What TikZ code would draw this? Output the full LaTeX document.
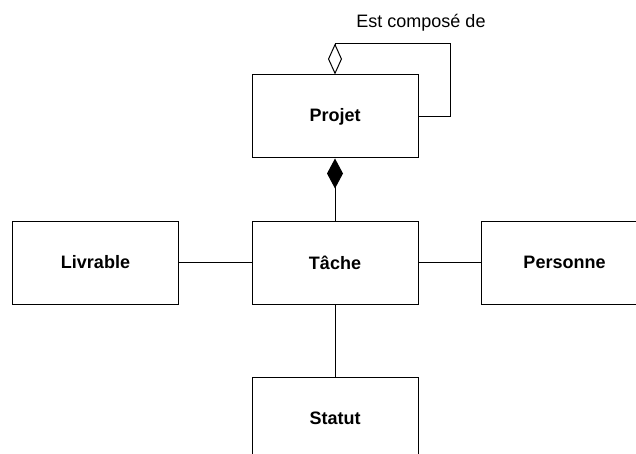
\documentclass[tikz,border=0pt]{standalone}
\usepackage{fontspec}
\setmainfont{Liberation Sans}
\usepackage{tikz}
\usetikzlibrary{arrows.meta}

\begin{document}
\begin{tikzpicture}[
  x=1pt, y=-1pt,
  font=\fontsize{18}{20}\selectfont,
  cls/.style={draw=black, line width=1pt, minimum width=166pt, minimum height=83pt,
              inner sep=0pt, font=\fontsize{18}{20}\selectfont\bfseries},
  assoc/.style={draw=black, line width=1pt},
  aggr/.style={assoc, -{Diamond[open, length=31pt, width=14pt, line width=1pt]}},
  comp/.style={assoc, -{Diamond[length=30pt, width=16pt, fill=black]}},
  lbl/.style={inner sep=0pt}
]
\useasboundingbox (0,0) rectangle (636,454);
\clip (0,0) rectangle (636,454);

%% ---- classes ---------------------------------------------------------------
\node[cls] (projet)   at (335,116.5) {Projet};
\node[cls] (tache)    at (335,262.5) {Tâche};
\node[cls] (livrable) at (95.5,262.5) {Livrable};
\node[cls] (personne) at (564.5,262.5) {Personne};
\node[cls] (statut)   at (335,418.5) {Statut};

%% ---- self aggregation on the project ---------------------------------------
\draw[aggr] (projet.east) -- ++(32,0) |- ([yshift=31pt]projet.north) -- (projet.north);
\node[lbl, anchor=base] (estcompose) at (421,28) {Est composé de};

%% ---- associations ----------------------------------------------------------
\draw[comp] (tache) -- (projet);
\draw[assoc] (livrable) -- (tache);
\draw[assoc] (tache) -- (personne);
\draw[assoc] (tache) -- (statut);

\end{tikzpicture}
\end{document}
